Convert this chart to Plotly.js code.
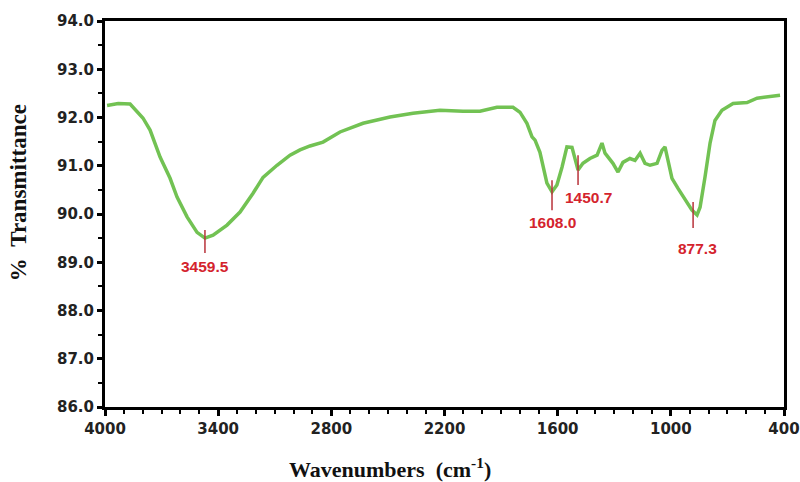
<!DOCTYPE html>
<html>
<head>
<meta charset="utf-8">
<script src="https://cdn.plot.ly/plotly-3.0.1.min.js"></script>
<style>html,body{margin:0;padding:0;background:#fff;}#chart{width:800px;height:482px;}</style>
</head>
<body>
<div id="chart"></div>
<script>
// Wavenumbers (cm-1) and % transmittance
var wavenumber = [3989, 3930, 3867, 3799, 3761, 3708, 3655, 3618, 3565, 3512, 3470, 3427, 3353, 3284, 3215, 3162, 3088, 3019, 2966, 2913, 2844, 2754, 2632, 2489, 2367, 2224, 2102, 2012, 1922, 1837, 1800, 1763, 1736, 1720, 1694, 1678, 1657, 1630, 1604, 1577, 1551, 1524, 1508, 1492, 1466, 1429, 1391, 1365, 1349, 1307, 1280, 1254, 1217, 1190, 1163, 1137, 1110, 1073, 1047, 1031, 1015, 994, 962, 925, 888, 861, 845, 819, 792, 766, 729, 670, 596, 543, 490, 421];
var transmittance = [92.25, 92.29, 92.28, 91.99, 91.74, 91.18, 90.74, 90.35, 89.94, 89.62, 89.50, 89.56, 89.77, 90.04, 90.43, 90.76, 91.01, 91.22, 91.33, 91.41, 91.49, 91.70, 91.88, 92.01, 92.09, 92.15, 92.13, 92.13, 92.21, 92.21, 92.11, 91.88, 91.60, 91.53, 91.28, 90.97, 90.64, 90.46, 90.60, 90.97, 91.39, 91.38, 91.11, 90.91, 91.05, 91.15, 91.22, 91.47, 91.26, 91.05, 90.87, 91.07, 91.15, 91.11, 91.26, 91.05, 91.01, 91.05, 91.32, 91.39, 91.11, 90.74, 90.53, 90.29, 90.08, 89.98, 90.14, 90.76, 91.47, 91.94, 92.15, 92.29, 92.31, 92.40, 92.42, 92.46];

// Peak annotations
var peakText = ["3459.5", "1608.0", "1450.7", "877.3"];
var peakX = [3470, 1630, 1492, 882];
var peakLineTop = [89.67, 90.70, 91.22, 90.25];
var peakLineBottom = [89.19, 90.08, 90.60, 89.71];
var peakLabelX = [3470, 1625, 1439, 861];
var peakLabelY = [88.92, 89.83, 90.35, 89.29];

// Axis ticks and titles
var xTickVals = [4000, 3400, 2800, 2200, 1600, 1000, 400];
var yTickVals = [86, 87, 88, 89, 90, 91, 92, 93, 94];
var xTitle = 'Wavenumbers&nbsp;&nbsp;(cm<sup>-1</sup>)';
var yTitle = '%&nbsp;&nbsp;Transmittance';

var shapes = peakX.map(function (x, i) {
  return {type: 'line', xref: 'x', yref: 'y', x0: x, x1: x,
          y0: peakLineBottom[i], y1: peakLineTop[i],
          line: {color: '#b8323a', width: 1.5}};
});
var annotations = peakText.map(function (t, i) {
  return {xref: 'x', yref: 'y', x: peakLabelX[i], y: peakLabelY[i], text: '<b>' + t + '</b>',
          showarrow: false, font: {family: 'Liberation Sans, Arial, sans-serif', size: 15.5, color: '#d4232d'}};
});
var titleFont = {family: 'Liberation Serif, Times New Roman, serif', size: 22, color: '#111'};
annotations.push({xref: 'paper', yref: 'paper', x: 0.42, y: -0.158, xanchor: 'center', yanchor: 'middle',
  text: '<b>' + xTitle + '</b>', showarrow: false, font: titleFont});
annotations.push({xref: 'paper', yref: 'paper', x: -0.128, y: 0.554, xanchor: 'center', yanchor: 'middle',
  textangle: -90, text: '<b>' + yTitle + '</b>', showarrow: false,
  font: {family: titleFont.family, size: 23, color: '#111'}});

var trace = {
  x: wavenumber, y: transmittance, type: 'scatter', mode: 'lines',
  line: {color: '#72c253', width: 3.5, shape: 'linear'},
  hoverinfo: 'skip'
};

var tickFont = {family: 'DejaVu Sans, Verdana, sans-serif', size: 15, color: '#222'};
var layout = {
  width: 800, height: 482,
  margin: {l: 105, r: 16, t: 21, b: 75},
  paper_bgcolor: '#fff', plot_bgcolor: '#fff',
  showlegend: false,
  xaxis: {
    range: [4000, 400], tickvals: xTickVals, ticktext: xTickVals.map(function (v) { return '<b>' + v + '</b>'; }),
    showgrid: false, zeroline: false,
    showline: true, mirror: true, linecolor: '#000', linewidth: 3,
    ticks: 'outside', ticklen: 6, tickwidth: 3, tickcolor: '#000',
    minor: {dtick: 100, tick0: 400, ticks: 'outside', ticklen: 4, tickwidth: 2, tickcolor: '#000', showgrid: false},
    tickfont: tickFont
  },
  yaxis: {
    range: [86, 94], tickvals: yTickVals, ticktext: yTickVals.map(function (v) { return '<b>' + v.toFixed(1) + '</b>'; }),
    showgrid: false, zeroline: false,
    showline: true, mirror: true, linecolor: '#000', linewidth: 3,
    ticks: 'outside', ticklen: 5, tickwidth: 3, tickcolor: '#000',
    minor: {dtick: 0.5, tick0: 86, ticks: 'outside', ticklen: 4, tickwidth: 2, tickcolor: '#000', showgrid: false},
    tickfont: tickFont
  },
  shapes: shapes,
  annotations: annotations
};

Plotly.newPlot('chart', [trace], layout, {displayModeBar: false, staticPlot: true});
</script>
</body>
</html>
